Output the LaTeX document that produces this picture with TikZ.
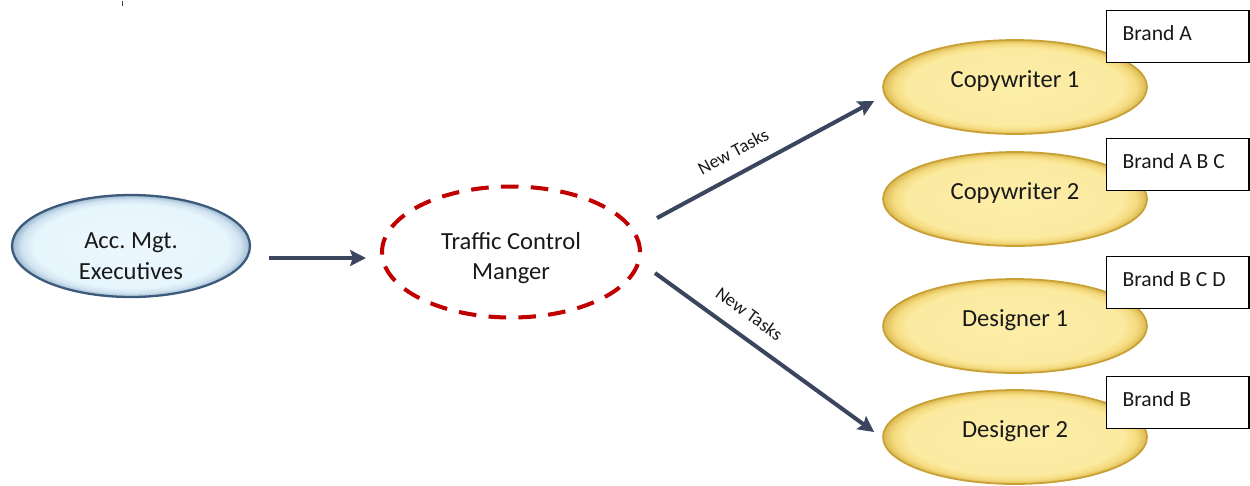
\documentclass[tikz,border=0pt]{standalone}
\usepackage{fontspec}
\setmainfont{Carlito}
\usetikzlibrary{shapes.geometric,arrows.meta}

\definecolor{ovalgold}{RGB}{200,160,52}
\definecolor{ovalblueline}{RGB}{62,90,122}
\definecolor{dashred}{RGB}{192,0,0}
\definecolor{flowblue}{RGB}{59,70,94}
\definecolor{txt}{RGB}{25,25,25}

% bevelled fills: flat body, narrow darker rim
\pgfdeclareradialshading{ovalyellow}{\pgfpoint{0bp}{0bp}}{%
  rgb(0bp)=(0.988,0.930,0.660); rgb(20.5bp)=(0.984,0.918,0.628);
  rgb(23bp)=(0.960,0.860,0.500); rgb(25bp)=(0.860,0.720,0.320);
  rgb(50bp)=(0.860,0.720,0.320)}
\pgfdeclareradialshading{ovalblue}{\pgfpoint{0bp}{0bp}}{%
  rgb(0bp)=(0.925,0.970,0.995); rgb(20.5bp)=(0.905,0.960,0.990);
  rgb(23bp)=(0.820,0.890,0.940); rgb(25bp)=(0.600,0.720,0.820);
  rgb(50bp)=(0.600,0.720,0.820)}

\newcommand\brandtext[1]{\makebox[63pt][l]{#1}}

\begin{document}
\frenchspacing
\begin{tikzpicture}[x=0.02cm,y=-0.02cm,
  every node/.style={text=txt},
  lbl/.style={align=center, inner sep=0pt, font=\fontsize{14}{17.5}\selectfont},
  yoval/.style={ellipse, draw=ovalgold, line width=1pt, shading=ovalyellow,
    minimum width=5.28cm, minimum height=1.88cm, inner sep=0pt,
    text height=9pt, text depth=9pt, font=\fontsize{14}{17}\selectfont},
  brandbox/.style={draw=black, line width=0.8pt, fill=white, anchor=north west,
    inner xsep=9pt, inner ysep=0pt, minimum height=1.04cm, text depth=4.5pt,
    font=\fontsize{12.3}{15}\selectfont},
  flow/.style={draw=flowblue, line width=2.3pt,
    -{Stealth[length=9pt,width=9pt,inset=1.5pt]}},
  tasklbl/.style={sloped, above=5pt, inner sep=3pt, font=\fontsize{10.5}{12}\selectfont}]
\useasboundingbox (0,0) rectangle (1250,485);

% small stray tick at the top
\fill[black!75] (121.5,1) rectangle (123,6);

% account management
\node[ellipse, draw=ovalblueline, line width=1.3pt, shading=ovalblue,
  minimum width=4.76cm, minimum height=2.04cm, inner sep=0pt] (acc) at (131,246) {};
\node[lbl] (acctext) at (131,256) {Acc. Mgt.\\Executives};

% traffic control
\node[ellipse, draw=dashred, line width=2.3pt, dash pattern=on 10pt off 7pt,
  minimum width=5.16cm, minimum height=2.62cm, inner sep=0pt] (tcm) at (511,252) {};
\node[lbl] (tcmtext) at (511,258) {Traffic Control\\Manger};

% staff
\node[yoval] (cw1) at (1015,87)  {Copywriter 1};
\node[yoval] (cw2) at (1015,199) {Copywriter 2};
\node[yoval] (ds1) at (1015,326) {Designer 1};
\node[yoval] (ds2) at (1015,437) {Designer 2};

% brand assignments
\node[brandbox] (bA)   at (1106,10)  {\brandtext{Brand A}};
\node[brandbox] (bABC) at (1106,138) {\brandtext{Brand A B C}};
\node[brandbox] (bBCD) at (1106,256) {\brandtext{Brand B C D}};
\node[brandbox] (bB)   at (1106,376) {\brandtext{Brand B}};

% flows
\draw[flow] ([shift={(18,12)}]acc.east) -- ([shift={(-14,6)}]tcm.west);
\draw[flow] ([shift={(15,-34)}]tcm.east) --
  node[tasklbl, pos=0.40] (nt1) {New Tasks} ([shift={(-8,14)}]cw1.west);
\draw[flow] ([shift={(13,21)}]tcm.east) --
  node[tasklbl, pos=0.37] (nt2) {New Tasks} ([shift={(-8,-5)}]ds2.west);
\end{tikzpicture}
\end{document}
